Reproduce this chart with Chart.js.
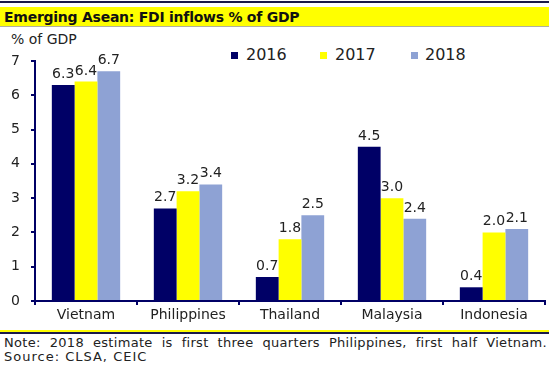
<!DOCTYPE html>
<html>
<head>
<meta charset="utf-8">
<script src="https://cdn.jsdelivr.net/npm/chart.js@4"></script>
<style>
  body { margin: 0; width: 551px; height: 367px; background: #fff; position: relative; overflow: hidden;
         font-family: "DejaVu Sans", Verdana, sans-serif; color: #222; }
  .topline { position: absolute; left: 0; top: 1px; width: 549px; height: 2px; background: #1a1a4a; }
  .title { position: absolute; left: 0; top: 7px; width: 549px; height: 20px; background: #ffff00;
           border-bottom: 1px solid #b0b0a0; font-weight: bold; font-size: 14px; letter-spacing: -0.25px;
           line-height: 20px; padding-left: 4px; box-sizing: border-box; color: #111; }
  .unit { position: absolute; left: 11px; top: 31px; font-size: 14px; line-height: 16px; color: #222; }
  .lg { position: absolute; top: 46px; font-size: 16px; line-height: 18px; color: #222; white-space: nowrap; }
  .box { position: absolute; top: 52px; width: 7px; height: 7px; }
  #wrap { position: absolute; left: 0; top: 28px; width: 551px; height: 302px; }
  .sep1 { position: absolute; left: 0; top: 330px; width: 549px; height: 2px; background: #ffff00; }
  .sep2 { position: absolute; left: 0; top: 332px; width: 549px; height: 2px; background: #1a1a4a; }
  .note { position: absolute; left: 4px; width: 543px; font-size: 13px; line-height: 14px; color: #222; }
  .n1 { top: 336px; letter-spacing: 0.3px; white-space: nowrap; text-align: justify; text-align-last: justify; }
  .n2 { top: 350px; letter-spacing: 1px; }
</style>
</head>
<body>
<div class="topline"></div>
<div class="title">Emerging Asean: FDI inflows % of GDP</div>
<div class="unit">% of GDP</div>
<div id="legend"></div>
<div id="wrap"><canvas id="fdiChart"></canvas></div>
<div class="sep1"></div>
<div class="sep2"></div>
<div class="note n1">Note: 2018 estimate is first three quarters Philippines, first half Vietnam.</div>
<div class="note n2">Source: CLSA, CEIC</div>

<script>
// chart data
const countries = ['Vietnam', 'Philippines', 'Thailand', 'Malaysia', 'Indonesia'];
const years = ['2016', '2017', '2018'];
const fdi2016 = [6.3, 2.7, 0.7, 4.5, 0.4];
const fdi2017 = [6.4, 3.2, 1.8, 3.0, 2.0];
const fdi2018 = [6.7, 3.4, 2.5, 2.4, 2.1];
const yTicks = [0, 1, 2, 3, 4, 5, 6, 7];

const colors = ['#000066', '#ffff00', '#8ea2d4'];
const series = [fdi2016, fdi2017, fdi2018];

// html legend, placed like the original
const legendBoxX = [231, 320, 411];
const legendTextX = [246, 335, 425];
const legendEl = document.getElementById('legend');
years.forEach((y, i) => {
    const b = document.createElement('div');
    b.className = 'box';
    b.style.left = legendBoxX[i] + 'px';
    b.style.background = colors[i];
    legendEl.appendChild(b);
    const t = document.createElement('div');
    t.className = 'lg';
    t.style.left = legendTextX[i] + 'px';
    t.textContent = y;
    legendEl.appendChild(t);
});

// value labels above bars
const valueLabels = {
    id: 'valueLabels',
    afterDatasetsDraw(chart) {
        const ctx = chart.ctx;
        ctx.save();
        ctx.font = '14px "DejaVu Sans", Verdana, sans-serif';
        ctx.fillStyle = '#222';
        ctx.textAlign = 'center';
        ctx.textBaseline = 'alphabetic';
        chart.data.datasets.forEach((ds, i) => {
            chart.getDatasetMeta(i).data.forEach((bar, j) => {
                ctx.fillText(ds.data[j].toFixed(1), bar.x, bar.y - 7);
            });
        });
        ctx.restore();
    }
};

new Chart(document.getElementById('fdiChart'), {
    type: 'bar',
    data: {
        labels: countries,
        datasets: years.map((y, i) => ({
            label: y,
            data: series[i],
            backgroundColor: colors[i],
            borderWidth: 0,
            barPercentage: 1,
            categoryPercentage: 0.67
        }))
    },
    options: {
        responsive: true,
        maintainAspectRatio: false,
        animation: false,
        layout: { padding: { top: 33, right: 6, left: 0, bottom: 0 } },
        plugins: {
            legend: { display: false },
            tooltip: { enabled: false }
        },
        scales: {
            x: {
                afterFit: s => { s.height = 29; },
                grid: { drawOnChartArea: false, offset: true, tickLength: 4, color: '#000066', lineWidth: 2 },
                border: { color: '#000066', width: 2 },
                ticks: { color: '#222', font: { family: '"DejaVu Sans", Verdana, sans-serif', size: 14 }, padding: 2 }
            },
            y: {
                min: 0,
                max: 7,
                afterFit: s => { s.width = 35; },
                afterBuildTicks: s => { s.ticks = yTicks.map(v => ({ value: v })); },
                grid: { drawOnChartArea: false, tickLength: 4, color: '#000066', lineWidth: 2 },
                border: { color: '#000066', width: 2 },
                ticks: { color: '#222', font: { family: '"DejaVu Sans", Verdana, sans-serif', size: 14 }, padding: 11 }
            }
        }
    },
    plugins: [valueLabels]
});
</script>
</body>
</html>
